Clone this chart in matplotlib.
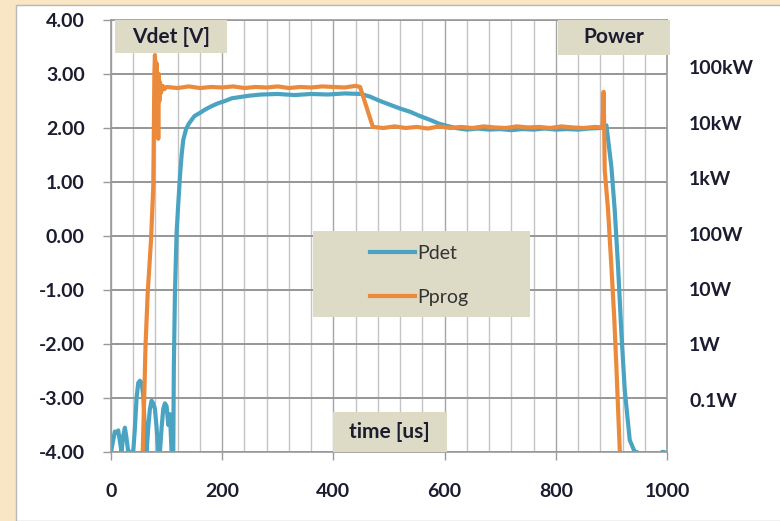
import matplotlib
matplotlib.use("Agg")
import matplotlib.pyplot as plt
from matplotlib.patches import Rectangle
from matplotlib.ticker import MultipleLocator

plt.rcParams['font.family'] = ['Lato', 'DejaVu Sans']

# detected power (Vdet)
pdet_t = [0, 1, 4, 7, 10, 13, 16, 19, 22, 25, 28, 31, 34, 37, 40, 43, 46, 49, 52, 55,
          58, 61, 64, 67, 70, 73, 76, 79, 82, 85, 88, 91, 94, 97, 100, 103, 106, 109,
          112, 113, 115, 118, 121, 124, 127, 130, 135, 140, 145, 150, 160, 169, 180,
          193, 205, 217, 230, 250, 270, 300, 330, 360, 390, 420, 450, 466, 484, 502,
          520, 538, 556, 574, 590, 604, 620, 640, 660, 680, 700, 720, 740, 760, 780,
          800, 820, 840, 860, 880, 891, 900, 906, 912, 918, 924, 933, 942, 946, 950,
          988, 991, 995, 998]
pdet_v = [-4.0, -3.95, -3.78, -3.62, -3.65, -3.6, -3.8, -4.0, -3.7, -3.55, -3.75, -4.0,
          -4.0, -4.0, -4.0, -3.55, -3.0, -2.72, -2.68, -2.72, -2.95, -3.6, -4.0, -3.55,
          -3.2, -3.05, -3.1, -3.2, -3.55, -4.0, -4.0, -3.55, -3.2, -3.1, -3.15, -3.5,
          -3.3, -4.0, -4.0, -2.45, -1.06, 0.06, 0.6, 1.1, 1.5, 1.78, 1.98, 2.08, 2.15,
          2.22, 2.28, 2.34, 2.4, 2.46, 2.5, 2.55, 2.57, 2.6, 2.62, 2.63, 2.61, 2.63,
          2.62, 2.64, 2.63, 2.58, 2.5, 2.43, 2.36, 2.3, 2.22, 2.15, 2.08, 2.04, 2.0,
          1.97, 1.99, 1.97, 1.98, 1.96, 1.98, 1.97, 1.99, 1.97, 1.98, 1.97, 1.99, 2.0,
          2.05, 1.28, 0.48, -0.57, -1.8, -2.85, -3.78, -4.0, -4.0, -4.4, -4.4, -4.0,
          -4.0, -4.4]

# programmed power
pprog_t = [57, 60, 62, 66, 72, 76, 77, 78, 79, 80, 81, 82, 83, 84, 85, 86, 87, 88, 90,
           93, 96, 100, 120, 140, 160, 180, 200, 220, 240, 260, 280, 300, 320, 340,
           360, 380, 400, 420, 440, 448, 471, 490, 510, 530, 550, 570, 590, 610, 630,
           650, 670, 690, 710, 730, 750, 770, 790, 810, 830, 850, 870, 884, 886, 887,
           888, 894, 900, 905, 909, 915, 916]
pprog_v = [-4.0, -2.9, -2.05, -1.06, -0.07, 0.9, 1.9, 3.0, 3.35, 3.1, 2.4, 3.2, 2.0, 2.9,
           1.8, 3.0, 2.5, 2.85, 2.65, 2.78, 2.72, 2.76, 2.74, 2.77, 2.74, 2.76, 2.75,
           2.77, 2.74, 2.76, 2.75, 2.77, 2.74, 2.76, 2.75, 2.77, 2.76, 2.75, 2.78, 2.76,
           2.02, 2.0, 2.03, 2.0, 2.02, 1.99, 2.03, 2.0, 2.02, 2.0, 2.03, 2.01, 2.0,
           2.03, 2.01, 2.02, 2.0, 2.03, 2.01, 2.0, 2.02, 2.01, 2.67, 2.0, 1.22, 0.48,
           -0.57, -1.5, -2.43, -3.96, -4.4]

x_ticks = [0, 200, 400, 600, 800, 1000]
y_ticks = [-4, -3, -2, -1, 0, 1, 2, 3, 4]
power_exp = [-1, 0, 1, 2, 3, 4, 5]
power_labels = ['0.1W', '1W', '10W', '100W', '1kW', '10kW', '100kW']

BLUE = '#4aa4c1'
ORANGE = '#ec8a3c'
TAN = '#dddac6'
INK = '#1c1c30'

fig = plt.figure(figsize=(7.8, 5.21), dpi=100, facecolor='#f8e6c4')
fig.patches.append(Rectangle((16 / 780, 0), 1, 516 / 521, transform=fig.transFigure,
                             fc='white', ec='#b8b8b8', lw=1, zorder=-10))

ax = fig.add_axes([111 / 780, 69 / 521, 556 / 780, 432 / 521])
ax.set_facecolor('white')
ax.set_xlim(0, 1000)
ax.set_ylim(-4, 4)
ax.set_xticks(x_ticks)
ax.set_yticks(y_ticks, ['%.2f' % v for v in y_ticks])
ax.xaxis.set_minor_locator(MultipleLocator(40))
ax.set_axisbelow(True)
ax.grid(which='minor', axis='x', color='#c4c4c4', lw=1.0)
ax.grid(which='major', axis='x', color='#a4a4a4', lw=1.0)
ax.grid(which='major', axis='y', color='#969696', lw=1.4)
ax.tick_params(which='minor', length=0)
ax.tick_params(which='major', length=6, width=1, color='#999999', labelcolor=INK,
               labelsize=14)
ax.tick_params(axis='y', pad=13)
ax.tick_params(axis='x', pad=16)
for lab in ax.get_xticklabels() + ax.get_yticklabels():
    lab.set_fontweight('bold')
for s in ax.spines.values():
    s.set_color('#9a9a9a')
    s.set_linewidth(1.2)

l1, = ax.plot(pdet_t, pdet_v, color=BLUE, lw=3)
l2, = ax.plot(pprog_t, pprog_v, color=ORANGE, lw=3)

# right hand power scale
ax2 = ax.twinx()
ax2.set_ylim(-1.937, 5.847)
ax2.set_yticks(power_exp, power_labels)
ax2.tick_params(length=0, pad=16, labelsize=14, labelcolor=INK)
for lab in ax2.get_yticklabels():
    lab.set_fontweight('bold')
for s in ax2.spines.values():
    s.set_visible(False)

# label boxes
def label_box(x0, x1, y0, y1, text):
    ax2.add_patch(Rectangle((x0, y0), x1 - x0, y1 - y0, transform=ax.transAxes,
                            fc=TAN, ec='none', clip_on=False, zorder=5))
    ax2.text((x0 + x1) / 2, (y0 + y1) / 2, text, transform=ax.transAxes, ha='center',
             va='center', fontsize=15, fontweight='bold', color=INK, zorder=6)

label_box(0.0072, 0.2086, 0.9236, 1.0, 'Vdet [V]')
label_box(0.804, 1.005, 0.919, 1.0, 'Power')
label_box(0.399, 0.604, 0.0, 0.0926, 'time [us]')

# legend
ax2.add_patch(Rectangle((0.363, 0.3125), 0.391, 0.199, transform=ax.transAxes,
                        fc=TAN, ec='none', zorder=5))
leg = ax2.legend([l1, l2], ['Pdet', 'Pprog'], loc='center left',
                 bbox_to_anchor=(0.448, 0.409), frameon=False, fontsize=14,
                 handlelength=2.3, handletextpad=0.15, labelspacing=1.4, borderpad=0)
leg.set_zorder(7)
for t in leg.get_texts():
    t.set_color('#333333')

fig.savefig('out.png', dpi=100, facecolor=fig.get_facecolor())
